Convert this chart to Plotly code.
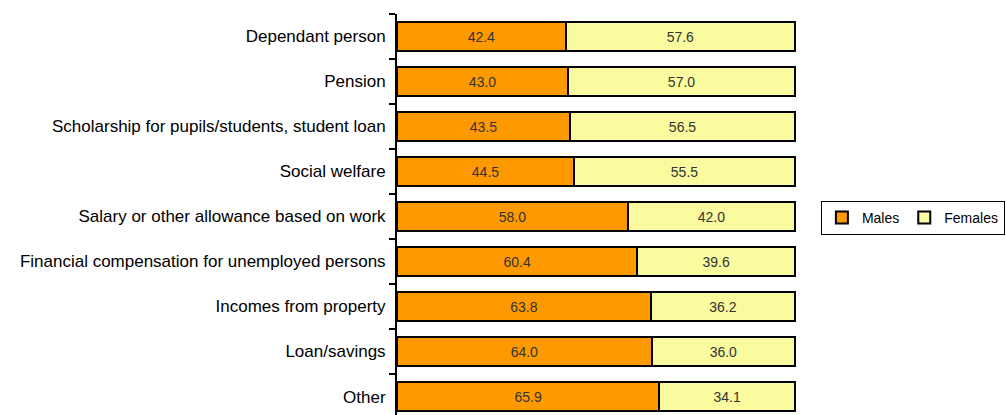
import plotly.graph_objects as go

categories = [
    "Dependant person",
    "Pension",
    "Scholarship for pupils/students, student loan",
    "Social welfare",
    "Salary or other allowance based on work",
    "Financial compensation for unemployed persons",
    "Incomes from property",
    "Loan/savings",
    "Other",
]
males = [42.4, 43.0, 43.5, 44.5, 58.0, 60.4, 63.8, 64.0, 65.9]
females = [57.6, 57.0, 56.5, 55.5, 42.0, 39.6, 36.2, 36.0, 34.1]

FONT = "Liberation Sans, Arial"

fig = go.Figure()
fig.add_trace(go.Bar(
    y=categories, x=males, orientation="h", name="Males",
    marker=dict(color="#FF9900", line=dict(color="black", width=2)),
    text=[f"{v:.1f}" for v in males], textposition="inside", insidetextanchor="middle",
    textfont=dict(size=14, color="#333333", family=FONT),
))
fig.add_trace(go.Bar(
    y=categories, x=females, orientation="h", name="Females",
    marker=dict(color="#FAFA9E", line=dict(color="black", width=2)),
    text=[f"{v:.1f}" for v in females], textposition="inside", insidetextanchor="middle",
    textfont=dict(size=14, color="#333333", family=FONT),
))

fig.update_layout(
    barmode="stack",
    bargap=0.36,
    width=1006, height=415,
    margin=dict(l=397, r=209, t=14, b=0, autoexpand=False),
    plot_bgcolor="white", paper_bgcolor="white",
    font=dict(family=FONT, size=17, color="black"),
    showlegend=True,
    legend=dict(
        orientation="h", xref="container", yref="container",
        x=0.816, xanchor="left", y=0.475, yanchor="middle",
        bordercolor="black", borderwidth=1, font=dict(size=14),
        traceorder="normal", itemwidth=30,
    ),
    uniformtext=dict(minsize=14, mode="show"),
)
fig.update_xaxes(range=[0, 100.5], visible=False)
fig.update_yaxes(
    type="category", range=[8.41, -0.5], showline=True, linecolor="black", linewidth=2,
    ticks="outside", tickson="boundaries", ticklen=6, tickwidth=2, tickcolor="black",
    showgrid=False, zeroline=False, ticklabelstandoff=6,
)

fig.write_html("out.html", config={"displayModeBar": False},
               post_script="document.body.style.margin='0';")
